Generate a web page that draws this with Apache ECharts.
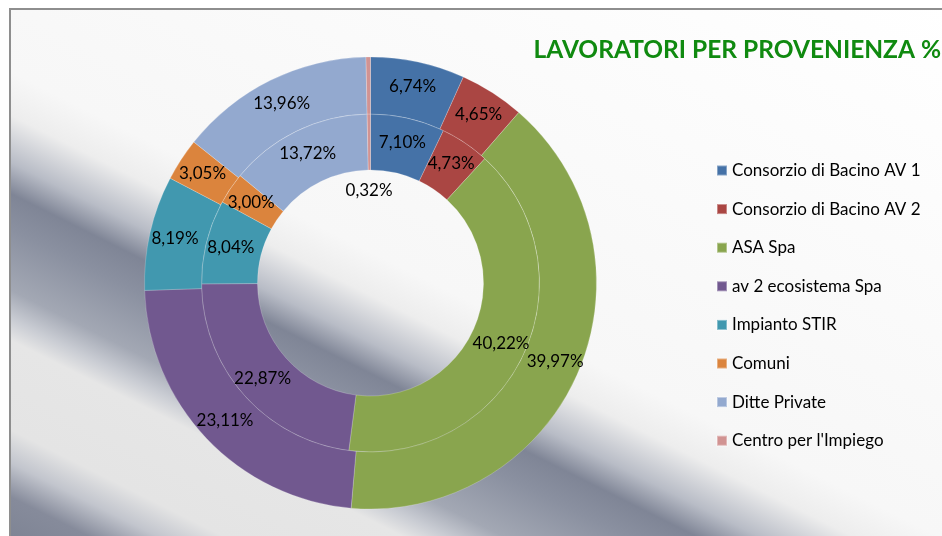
<!DOCTYPE html>
<html>
<head>
<meta charset="utf-8">
<script src="https://cdn.jsdelivr.net/npm/echarts@6/dist/echarts.min.js"></script>
<style>
html, body { margin: 0; padding: 0; background: #fff; }
#main { width: 942px; height: 536px; }
</style>
</head>
<body>
<div id="main"></div>
<script>
var categories = ['Consorzio di Bacino AV 1', 'Consorzio di Bacino AV 2', 'ASA Spa', 'av 2 ecosistema Spa',
	'Impianto STIR', 'Comuni', 'Ditte Private', "Centro per l'Impiego"];
var innerValues = [7.10, 4.73, 40.22, 22.87, 8.04, 3.00, 13.72, 0.32];
var outerValues = [6.74, 4.65, 39.97, 23.11, 8.19, 3.05, 13.96, 0.32];
var colors = ['#4572A7', '#AA4643', '#89A54E', '#71588F', '#4198AF', '#DB843D', '#93A9CF', '#D19392'];

function toData(values) {
	return values.map(function (v, i) {
		return { name: categories[i], value: v };
	});
}

function pct(p) {
	return p.value.toFixed(2).replace('.', ',') + '%';
}

// sfondo sfumato a bande diagonali (stile Excel)
var bg = new echarts.graphic.LinearGradient(188, -376, -214, 428, [
	{ offset: 0, color: '#ffffff' },
	{ offset: 0.534, color: '#f7f7f7' },
	{ offset: 0.577, color: '#ededed' },
	{ offset: 0.624, color: '#b8bcc6' },
	{ offset: 0.655, color: '#7f8596' },
	{ offset: 0.69, color: '#8a90a0' },
	{ offset: 0.751, color: '#a3a8b4' },
	{ offset: 0.779, color: '#c9ccd3' },
	{ offset: 0.801, color: '#e6e6e6' },
	{ offset: 0.89, color: '#e4e4e4' },
	{ offset: 0.923, color: '#c2c5cd' },
	{ offset: 0.957, color: '#868b9b' },
	{ offset: 1, color: '#7e8494' }
], true);

var myChart = echarts.init(document.getElementById('main'));

myChart.setOption({
	backgroundColor: '#fff',
	color: colors,
	animation: false,
	graphic: [{
		type: 'rect',
		z: -10,
		shape: { x: 10, y: 9, width: 940, height: 535 },
		style: { fill: bg, stroke: '#8e8e8e', lineWidth: 2 }
	}],
	title: {
		text: 'LAVORATORI PER PROVENIENZA %',
		right: -4,
		top: 33,
		textStyle: {
			color: '#108a10',
			fontFamily: 'Lato',
			fontWeight: 'bold',
			fontSize: 24.5
		}
	},
	legend: {
		orient: 'vertical',
		left: 711,
		top: 157,
		icon: 'rect',
		itemWidth: 10,
		itemHeight: 10,
		itemGap: 21.6,
		data: categories,
		textStyle: {
			color: '#000',
			fontFamily: 'Lato',
			fontSize: 17,
			lineHeight: 17
		}
	},
	series: [{
		name: 'interno',
		type: 'pie',
		center: [370.5, 283],
		radius: [113, 169],
		startAngle: 90,
		clockwise: true,
		data: toData(innerValues),
		itemStyle: { borderColor: 'rgba(255,255,255,0.35)', borderWidth: 0.6 },
		label: {
			position: 'inside',
			formatter: pct,
			color: '#000',
			fontFamily: 'Lato',
			fontSize: 17
		},
		labelLayout: function (p) {
			return p.dataIndex === 7 ? { dy: 52 } : {};
		},
		emphasis: { disabled: true }
	}, {
		name: 'esterno',
		type: 'pie',
		center: [370.5, 283],
		radius: [169, 226],
		startAngle: 90,
		clockwise: true,
		data: toData(outerValues),
		itemStyle: { borderColor: 'rgba(255,255,255,0.35)', borderWidth: 0.6 },
		label: {
			position: 'inside',
			formatter: pct,
			color: '#000',
			fontFamily: 'Lato',
			fontSize: 17
		},
		emphasis: { disabled: true }
	}]
});

window.addEventListener('resize', function () {
	myChart.resize();
});
</script>
</body>
</html>
